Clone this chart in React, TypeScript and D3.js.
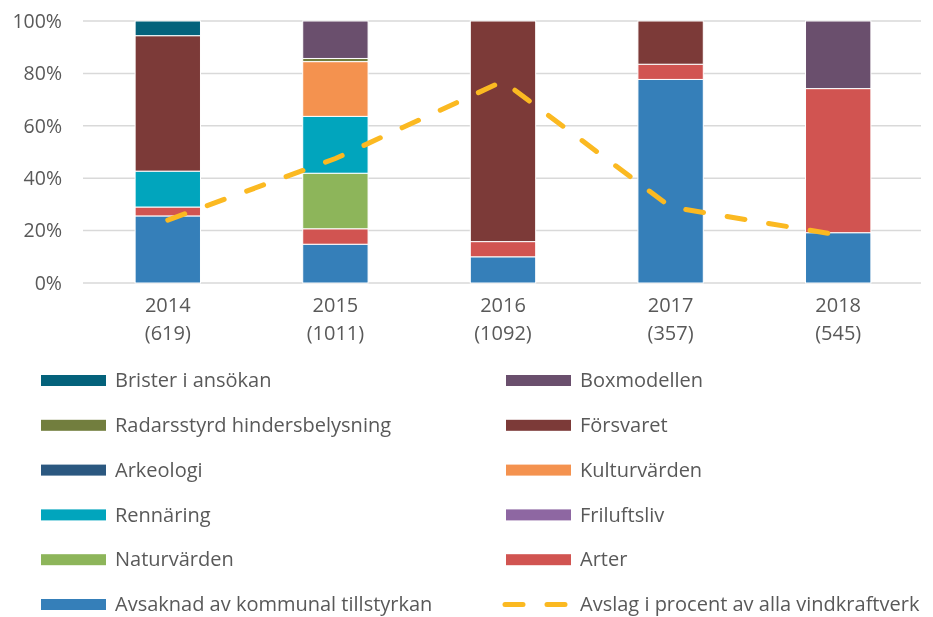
import React, { useEffect, useRef } from "react";
import * as d3 from "d3";

const years = ["2014", "2015", "2016", "2017", "2018"];
const counts = ["(619)", "(1011)", "(1092)", "(357)", "(545)"];

// stacked from the bottom up, percent of each year
const avsaknad = [25.6, 14.8, 10.0, 77.7, 19.2];
const arter = [3.4, 5.9, 5.8, 5.8, 55.0];
const naturvarden = [0, 21.2, 0, 0, 0];
const friluftsliv = [0, 0, 0, 0, 0];
const rennaring = [13.7, 21.7, 0, 0, 0];
const kulturvarden = [0, 20.9, 0, 0, 0];
const arkeologi = [0, 0, 0, 0, 0];
const forsvaret = [51.7, 0, 84.2, 16.5, 0];
const radarsstyrd = [0, 1.2, 0, 0, 0];
const boxmodellen = [0, 14.3, 0, 0, 25.8];
const brister = [5.6, 0, 0, 0, 0];

const avslag = [24, 47.5, 77, 29, 18.3];

const yTicks = [0, 20, 40, 60, 80, 100];

const seriesList = [
  { name: "Avsaknad av kommunal tillstyrkan", values: avsaknad, color: "#357fb9" },
  { name: "Arter", values: arter, color: "#d15451" },
  { name: "Naturvärden", values: naturvarden, color: "#8db55a" },
  { name: "Friluftsliv", values: friluftsliv, color: "#8e67a2" },
  { name: "Rennäring", values: rennaring, color: "#01a5bd" },
  { name: "Kulturvärden", values: kulturvarden, color: "#f4924f" },
  { name: "Arkeologi", values: arkeologi, color: "#2b5880" },
  { name: "Försvaret", values: forsvaret, color: "#7c3a38" },
  { name: "Radarsstyrd hindersbelysning", values: radarsstyrd, color: "#727e3e" },
  { name: "Boxmodellen", values: boxmodellen, color: "#6a4f6d" },
  { name: "Brister i ansökan", values: brister, color: "#04627b" },
];

const legendLeft = ["Brister i ansökan", "Radarsstyrd hindersbelysning", "Arkeologi", "Rennäring", "Naturvärden", "Avsaknad av kommunal tillstyrkan"];
const legendRight = ["Boxmodellen", "Försvaret", "Kulturvärden", "Friluftsliv", "Arter"];
const lineName = "Avslag i procent av alla vindkraftverk";

const font = "'Open Sans', sans-serif";
const textColor = "#595959";
const lineColor = "#fbb921";

const Chart = () => {
  const ref = useRef<SVGSVGElement>(null);

  useEffect(() => {
    const svg = d3.select(ref.current);
    svg.selectAll("*").remove();

    const width = 933, height = 617;
    svg.attr("width", width).attr("height", height);

    const x = d3.scaleBand().domain(years).range([84, 922]).paddingInner(0.61).paddingOuter(0.305);
    const y = d3.scaleLinear().domain([0, 100]).range([283, 21]);

    // grid
    svg.append("g")
      .selectAll("line")
      .data(yTicks)
      .join("line")
      .attr("x1", 83)
      .attr("x2", 921)
      .attr("y1", (d) => y(d))
      .attr("y2", (d) => y(d))
      .attr("stroke", "#d9d9d9")
      .attr("stroke-width", 1.5);

    svg.append("g")
      .selectAll("text")
      .data(yTicks)
      .join("text")
      .attr("x", 62)
      .attr("y", (d) => y(d))
      .attr("dy", "0.35em")
      .attr("text-anchor", "end")
      .attr("font-family", font)
      .attr("font-size", 19.5)
      .attr("fill", textColor)
      .text((d) => `${d}%`);

    // stacks
    const table = years.map((yr, i) => {
      const row: any = { year: yr };
      seriesList.forEach((s) => (row[s.name] = s.values[i]));
      return row;
    });
    const stack = d3.stack().keys(seriesList.map((s) => s.name));
    const stacked = stack(table);

    svg.append("g")
      .selectAll("g")
      .data(stacked)
      .join("g")
      .attr("fill", (d, i) => seriesList[i].color)
      .selectAll("rect")
      .data((d) => d.filter((p) => p[1] - p[0] > 0))
      .join("rect")
      .attr("x", (d: any) => x(d.data.year)!)
      .attr("y", (d) => y(d[1]))
      .attr("width", x.bandwidth())
      .attr("height", (d) => y(d[0]) - y(d[1]))
      .attr("stroke", "#fff")
      .attr("stroke-width", 1);

    // category labels
    const cat = svg.append("g")
      .selectAll("text")
      .data(years)
      .join("text")
      .attr("text-anchor", "middle")
      .attr("font-family", font)
      .attr("font-size", 20)
      .attr("fill", textColor);
    cat.append("tspan").attr("x", (d) => x(d)! + x.bandwidth() / 2).attr("y", 312).text((d) => d);
    cat.append("tspan").attr("x", (d) => x(d)! + x.bandwidth() / 2).attr("y", 340).text((d, i) => counts[i]);

    // line
    const line = d3.line<number>()
      .x((d, i) => x(years[i])! + x.bandwidth() / 2)
      .y((d) => y(d));
    svg.append("path")
      .datum(avslag)
      .attr("d", line)
      .attr("fill", "none")
      .attr("stroke", lineColor)
      .attr("stroke-width", 5)
      .attr("stroke-linecap", "round")
      .attr("stroke-dasharray", "18 24");

    // legend
    const colorOf = (n: string) => seriesList.find((s) => s.name === n)!.color;
    const rowY = (i: number) => 380.5 + i * 44.8;
    const leg = svg.append("g").attr("font-family", font).attr("font-size", 20).attr("fill", textColor);
    const addCol = (names: string[], sx: number, tx: number) => {
      names.forEach((n, i) => {
        leg.append("rect")
          .attr("x", sx).attr("y", rowY(i) - 5.5)
          .attr("width", 65).attr("height", 11)
          .attr("fill", colorOf(n));
        leg.append("text")
          .attr("x", tx).attr("y", rowY(i)).attr("dy", "0.33em")
          .text(n);
      });
    };
    addCol(legendLeft, 41, 115);
    addCol(legendRight, 506, 580);

    leg.append("line")
      .attr("x1", 505).attr("x2", 568)
      .attr("y1", rowY(5)).attr("y2", rowY(5))
      .attr("stroke", lineColor)
      .attr("stroke-width", 5)
      .attr("stroke-linecap", "round")
      .attr("stroke-dasharray", "18 24");
    leg.append("text")
      .attr("x", 580).attr("y", rowY(5)).attr("dy", "0.33em")
      .text(lineName);
  }, []);

  return <svg ref={ref} style={{ display: "block" }} />;
};

export default function App() {
  return (
    <div style={{ position: "fixed", left: 0, top: 0, width: 933, height: 617, overflow: "hidden" }}>
      <Chart />
    </div>
  );
}
